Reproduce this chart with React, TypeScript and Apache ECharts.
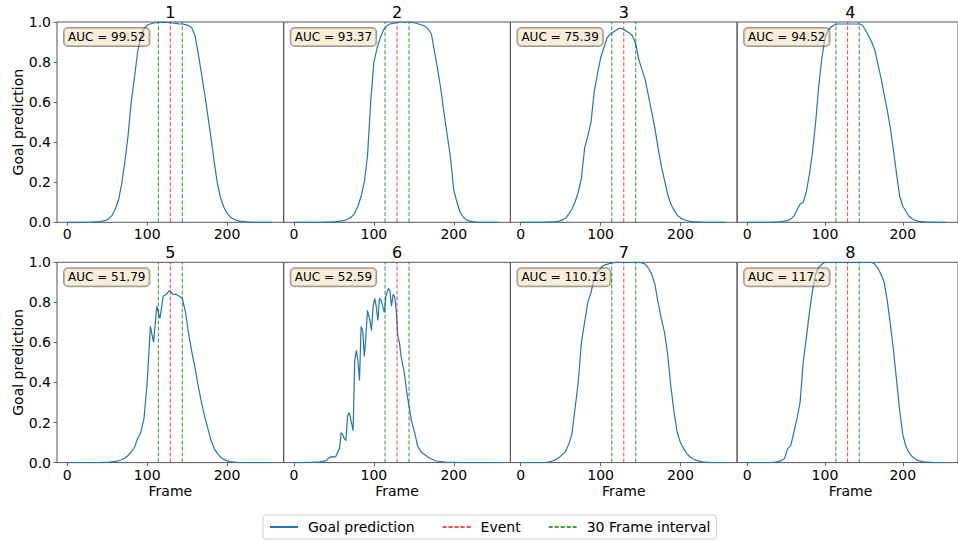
import React, { useEffect, useRef } from "react";
import * as echarts from "echarts";

// Frame positions (x values) shared by most panels
const FRAMES = [
  0, 4, 8, 12, 16, 20, 24, 28, 32, 36,
  40, 44, 48, 52, 56, 60, 64, 68, 72, 76,
  80, 84, 88, 92, 96, 100, 104, 108, 112, 116,
  120, 124, 128, 132, 136, 140, 144, 148, 152, 156,
  160, 164, 168, 172, 176, 180, 184, 188, 192, 196,
  200, 204, 208, 212, 216, 220, 224, 228, 232, 236,
  240, 244, 248, 252, 256,
];

const P1 = [
  0, 0, 0, 0, 0, 0, 0, 0, 0.001, 0.002,
  0.003, 0.006, 0.01, 0.018, 0.035, 0.065, 0.11, 0.19, 0.3, 0.43,
  0.6, 0.72, 0.85, 0.93, 0.965, 0.985, 0.99, 0.995, 0.997, 0.998,
  0.998, 0.998, 0.997, 0.995, 0.993, 0.99, 0.99, 0.987, 0.982, 0.97,
  0.93, 0.84, 0.74, 0.64, 0.53, 0.42, 0.3, 0.19, 0.12, 0.075,
  0.045, 0.027, 0.016, 0.01, 0.006, 0.004, 0.002, 0.001, 0, 0,
  0, 0, 0, 0, 0,
];
const P2 = [
  0, 0, 0, 0, 0, 0, 0, 0, 0, 0,
  0.001, 0.001, 0.002, 0.003, 0.005, 0.007, 0.01, 0.018, 0.027, 0.045,
  0.08, 0.13, 0.2, 0.33, 0.6, 0.8, 0.87, 0.92, 0.96, 0.98,
  0.99, 0.993, 0.997, 1, 1, 1, 1, 0.998, 0.995, 0.99,
  0.985, 0.978, 0.965, 0.94, 0.85, 0.76, 0.66, 0.54, 0.43, 0.32,
  0.16, 0.1, 0.05, 0.025, 0.012, 0.006, 0.003, 0.001, 0, 0,
  0, 0, 0, 0, 0,
];
const P3 = [
  0, 0, 0, 0, 0, 0, 0, 0, 0.001, 0.001,
  0.002, 0.003, 0.006, 0.012, 0.02, 0.04, 0.065, 0.1, 0.15, 0.22,
  0.37, 0.43, 0.5, 0.65, 0.74, 0.82, 0.87, 0.92, 0.94, 0.95,
  0.96, 0.97, 0.965, 0.955, 0.945, 0.93, 0.89, 0.81, 0.76, 0.71,
  0.63, 0.55, 0.47, 0.37, 0.28, 0.21, 0.14, 0.09, 0.06, 0.035,
  0.022, 0.014, 0.009, 0.005, 0.003, 0.002, 0.001, 0, 0, 0,
  0, 0, 0, 0, 0,
];
const P4 = [
  0, 0, 0, 0, 0, 0, 0, 0, 0.001, 0.001,
  0.002, 0.004, 0.006, 0.01, 0.016, 0.03, 0.06, 0.09, 0.1, 0.15,
  0.24, 0.35, 0.5, 0.68, 0.82, 0.92, 0.96, 0.975, 0.985, 0.99,
  0.99, 0.99, 0.99, 0.99, 0.99, 0.99, 0.99, 0.985, 0.96, 0.93,
  0.9, 0.86, 0.79, 0.72, 0.64, 0.56, 0.47, 0.36, 0.24, 0.13,
  0.08, 0.055, 0.03, 0.018, 0.01, 0.006, 0.004, 0.002, 0.001, 0,
  0, 0, 0, 0, 0,
];
const P5 = [
  0, 0, 0, 0, 0, 0, 0, 0, 0, 0,
  0, 0.001, 0.001, 0.002, 0.004, 0.006, 0.009, 0.014, 0.022, 0.035,
  0.055, 0.075, 0.12, 0.15, 0.22, 0.4, 0.68, 0.6, 0.78, 0.72,
  0.83, 0.84, 0.86, 0.84, 0.84, 0.83, 0.82, 0.75, 0.64, 0.55,
  0.47, 0.38, 0.3, 0.23, 0.17, 0.11, 0.07, 0.045, 0.027, 0.016,
  0.009, 0.005, 0.003, 0.001, 0, 0, 0, 0, 0, 0,
  0, 0, 0, 0, 0,
];
// Panel 6 is spiky, so it has its own frame positions
const P6_FRAMES = [
  0, 8, 16, 24, 32, 36, 40, 44, 48, 52,
  55, 57, 59, 61, 63, 65, 67, 69, 72, 74,
  76, 78, 80, 82, 84, 86, 88, 90, 92, 95,
  97, 99, 101, 103, 105, 107, 109, 111, 113, 115,
  118, 120, 122, 124, 126, 128, 130, 132, 134, 138,
  142, 147, 151, 155, 160, 165, 170, 178, 190, 210,
  230, 258,
];
const P6 = [
  0, 0, 0.001, 0.002, 0.004, 0.006, 0.01, 0.025, 0.03, 0.028,
  0.055, 0.07, 0.15, 0.14, 0.12, 0.11, 0.23, 0.25, 0.2, 0.16,
  0.51, 0.56, 0.51, 0.41, 0.68, 0.66, 0.53, 0.63, 0.76, 0.71,
  0.66, 0.78, 0.82, 0.78, 0.71, 0.82, 0.81, 0.78, 0.75, 0.83,
  0.87, 0.86, 0.78, 0.84, 0.83, 0.76, 0.63, 0.6, 0.53, 0.45,
  0.33, 0.21, 0.15, 0.08, 0.05, 0.035, 0.022, 0.008, 0.002, 0,
  0, 0,
];
const P7 = [
  0, 0, 0, 0, 0, 0, 0, 0, 0.001, 0.004,
  0.008, 0.015, 0.025, 0.04, 0.055, 0.09, 0.14, 0.27, 0.4, 0.6,
  0.7, 0.8, 0.85, 0.92, 0.95, 0.97, 0.985, 0.99, 0.995, 0.998,
  1, 1, 1, 1, 1, 1, 1, 1, 0.997, 0.99,
  0.97, 0.94, 0.89, 0.8, 0.72, 0.65, 0.54, 0.38, 0.25, 0.15,
  0.1, 0.07, 0.045, 0.028, 0.018, 0.011, 0.007, 0.004, 0.002, 0.001,
  0, 0, 0, 0, 0,
];
const P8 = [
  0, 0, 0, 0, 0, 0, 0, 0, 0.001, 0.003,
  0.006, 0.01, 0.02, 0.07, 0.085, 0.15, 0.22, 0.3, 0.5, 0.62,
  0.75, 0.86, 0.94, 0.975, 0.99, 1, 1, 1, 1, 1,
  1, 1, 1, 1, 1, 1, 1, 1, 1, 1,
  1, 0.99, 0.97, 0.94, 0.9, 0.81, 0.69, 0.56, 0.41, 0.26,
  0.14, 0.08, 0.05, 0.03, 0.018, 0.01, 0.006, 0.003, 0.002, 0.001,
  0, 0, 0, 0, 0,
];

const PANEL_X = [FRAMES, FRAMES, FRAMES, FRAMES, FRAMES, P6_FRAMES, FRAMES, FRAMES];
const PANEL_Y = [P1, P2, P3, P4, P5, P6, P7, P8];
const TITLES = ["1", "2", "3", "4", "5", "6", "7", "8"];
const AUC = ["99.52", "93.37", "75.39", "94.52", "51.79", "52.59", "110.13", "117.2"];
const EVENT_FRAME = 129;
const INTERVAL_FRAMES = [114, 144];
const X_TICKS = [0, 100, 200];

const FONT = "DejaVu Sans";
const BLUE = "#1f77b4";
const LEFTS = [57, 283.7, 510.4, 737.1];
const TOPS = [22, 262.3];
const W = 226.7;
const H = 200.3;

export default function App() {
  const ref = useRef<HTMLDivElement>(null);
  useEffect(() => {
    if (!ref.current) return;
    const chart = echarts.init(ref.current, undefined, { renderer: "svg" });
    const grids: any[] = [];
    const xAxes: any[] = [];
    const yAxes: any[] = [];
    const series: any[] = [];
    const graphics: any[] = [];
    for (let k = 0; k < 8; k++) {
      const row = Math.floor(k / 4);
      const col = k % 4;
      const left = LEFTS[col];
      const top = TOPS[row];
      grids.push({
        left, top, width: W, height: H, show: true,
        borderColor: "#555", borderWidth: 1, backgroundColor: "transparent",
      });
      xAxes.push({
        type: "value", gridIndex: k, min: -12.9, max: 270.9,
        axisLine: { show: false },
        axisTick: { show: true, customValues: X_TICKS, length: 3.5, lineStyle: { color: "#444", width: 0.8 } },
        axisLabel: { customValues: X_TICKS, fontSize: 14, color: "#000", margin: 5, fontFamily: FONT },
        splitLine: { show: false },
      });
      yAxes.push({
        type: "value", gridIndex: k, min: 0, max: 1, interval: 0.2,
        axisLine: { show: false, onZero: false },
        axisTick: { show: col === 0, length: 3.5, lineStyle: { color: "#444", width: 0.8 } },
        axisLabel: {
          show: col === 0, fontSize: 14, color: "#000", margin: 6, fontFamily: FONT,
          formatter: (v: number) => v.toFixed(1),
        },
        splitLine: { show: false },
      });
      const xs = PANEL_X[k];
      const ys = PANEL_Y[k];
      series.push({
        type: "line", name: "Goal prediction", xAxisIndex: k, yAxisIndex: k,
        data: xs.map((f, i) => [f, ys[i]]),
        symbol: "none", showSymbol: false,
        lineStyle: { color: BLUE, width: 1.2 }, itemStyle: { color: BLUE },
        z: 2,
      });
      series.push({
        type: "line", name: "Event", xAxisIndex: k, yAxisIndex: k,
        data: [[EVENT_FRAME, 0], [EVENT_FRAME, 1]],
        symbol: "none", showSymbol: false,
        lineStyle: { color: "#ff0000", width: 1.1, type: [4, 2], opacity: 0.7 },
        itemStyle: { color: "#ff0000" },
        z: 3,
      });
      INTERVAL_FRAMES.forEach((f) => {
        series.push({
          type: "line", name: "30 Frame interval", xAxisIndex: k, yAxisIndex: k,
          data: [[f, 0], [f, 1]],
          symbol: "none", showSymbol: false,
          lineStyle: { color: "#008000", width: 1.1, type: [4, 2], opacity: 0.75 },
          itemStyle: { color: "#008000" },
          z: 3,
        });
      });
      graphics.push({
        type: "text", x: left + W / 2, y: top - 10, z: 10,
        style: { text: TITLES[k], fontSize: 16, fontFamily: FONT, fill: "#000", textAlign: "center", textVerticalAlign: "middle" },
      });
      graphics.push({
        type: "text", x: left + 7, y: top + 6, z: 10,
        style: {
          text: "AUC = " + AUC[k], fontSize: 12, fontFamily: FONT, fill: "#000",
          textAlign: "left", textVerticalAlign: "top",
          backgroundColor: "rgba(245,222,179,0.5)", borderColor: "rgba(0,0,0,0.4)",
          borderWidth: 1, borderRadius: 4, padding: [3, 4, 3, 4],
        },
      });
      if (row === 1) {
        graphics.push({
          type: "text", x: left + W / 2, y: 491, z: 10,
          style: { text: "Frame", fontSize: 14, fontFamily: FONT, fill: "#000", textAlign: "center", textVerticalAlign: "middle" },
        });
      }
      if (col === 0) {
        graphics.push({
          type: "text", x: 18, y: top + H / 2, rotation: Math.PI / 2, z: 10,
          style: { text: "Goal prediction", fontSize: 14, fontFamily: FONT, fill: "#000", textAlign: "center", textVerticalAlign: "middle" },
        });
      }
    }
    chart.setOption({
      animation: false,
      backgroundColor: "#fff",
      grid: grids,
      xAxis: xAxes,
      yAxis: yAxes,
      series,
      graphic: graphics,
      legend: {
        data: ["Goal prediction", "Event", "30 Frame interval"],
        left: 263, top: 515,
        itemWidth: 28, itemHeight: 14, itemGap: 27,
        borderColor: "#ccc", borderWidth: 1, borderRadius: 3,
        padding: [5, 6],
        itemStyle: { opacity: 0 },
        textStyle: { fontSize: 14, fontFamily: FONT, color: "#000", padding: [0, 0, 0, 5] },
      },
    });
    return () => chart.dispose();
  }, []);
  return <div ref={ref} style={{ position: "absolute", left: 0, top: 0, width: 958, height: 542 }} />;
}
